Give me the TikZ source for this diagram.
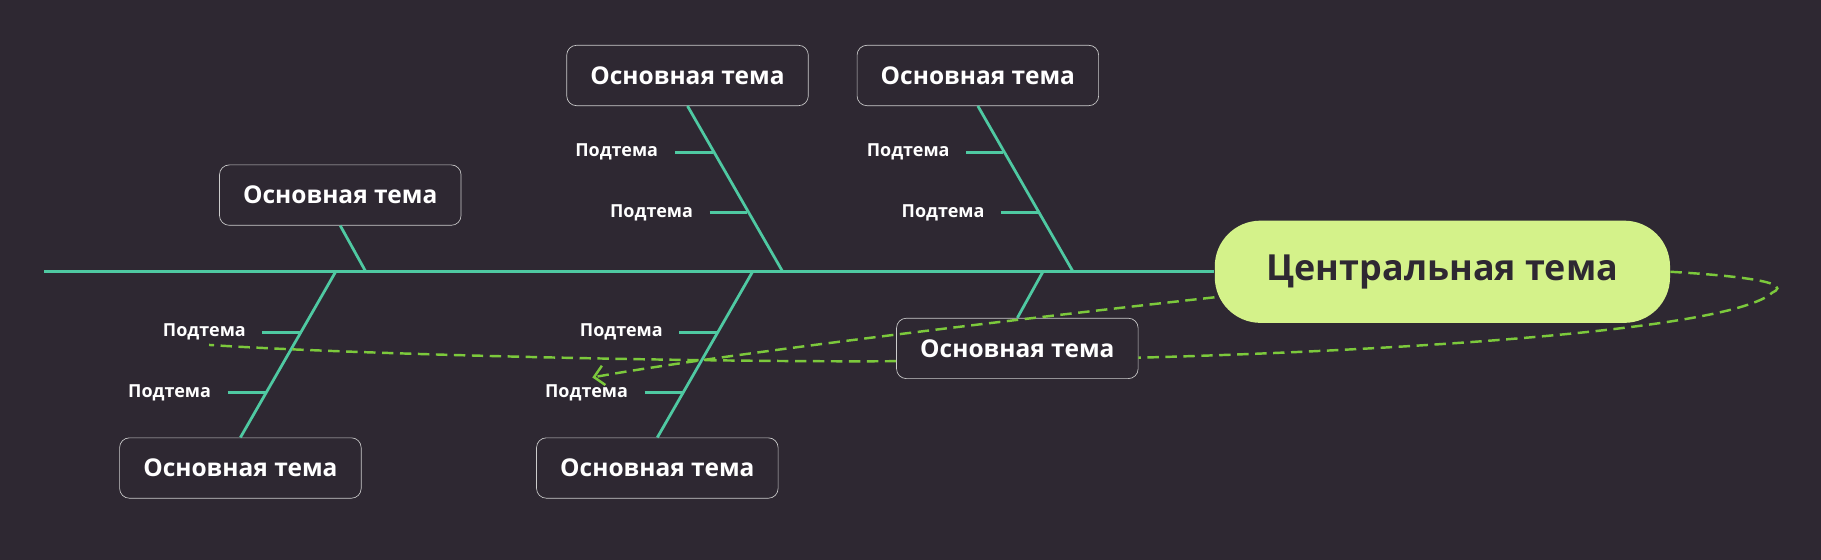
\documentclass[tikz,border=0pt]{standalone}
\usepackage{fontspec}
\setmainfont{Open Sans}
\usetikzlibrary{arrows.meta,positioning}
\definecolor{bg}{HTML}{2E2832}
\definecolor{bone}{HTML}{4FC9A2}
\definecolor{lime}{HTML}{D4F28A}
\definecolor{dash}{HTML}{7CC93C}
\tikzset{
  font=\bfseries,
  topic/.style={
    draw=white!80!black,
    fill=bg,
    text=white,
    rounded corners=6pt,
    minimum width=52mm,
    minimum height=13mm,
    font=\bfseries\fontsize{15}{18}\selectfont
  },
  central/.style={
    fill=lime,
    text=bg,
    rounded corners=28pt,
    minimum width=98mm,
    minimum height=22mm,
    font=\bfseries\fontsize{22}{26}\selectfont
  },
  sub/.style={text=white, font=\bfseries\fontsize{11}{13}\selectfont},
  bonel/.style={draw=bone, line width=1.7pt},
  loop/.style={draw=dash, line width=1.5pt, dashed, dash pattern=on 7pt off 4pt}
}
\begin{document}
\begin{tikzpicture}[x=0.25mm,y=-0.25mm]
\fill[bg] (0,0) rectangle (1568,482);

\node[central] (center) at (1242,234) {Центральная тема};
\coordinate (tail) at (38,234);

\node[topic] (t1) at (592,65) {Основная тема};
\node[topic] (t2) at (842,65) {Основная тема};
\node[topic] (t3) at (293,168) {Основная тема};
\node[topic] (b1) at (207,403) {Основная тема};
\node[topic] (b2) at (566,403) {Основная тема};
\node[topic] (b3) at (876,300) {Основная тема};

% joints on the spine
\coordinate (j1) at (674,234);
\coordinate (j2) at (924,234);
\coordinate (j3) at (315,234);
\coordinate (k1) at (289,234);
\coordinate (k2) at (648,234);
\coordinate (k3) at (898,234);

\draw[bonel] (tail) -- (center.west);
\draw[bonel] (t1.south) -- (j1);
\draw[bonel] (t2.south) -- (j2);
\draw[bonel] (t3.south) -- (j3);
\draw[bonel] (b1.north) -- (k1);
\draw[bonel] (b2.north) -- (k2);
\draw[bonel] (b3.north) -- (k3);

% sub topics
\foreach \n/\x/\y/\a/\b in {s1/531/131/581/614, s2/561/183/611/643,
    s3/782/131/832/864, s4/812/183/862/894,
    s5/176/286/226/259, s6/146/338/196/229,
    s7/535/286/585/618, s8/505/338/555/588}{
  \node[sub] (\n) at (\x,\y) {Подтема};
  \coordinate (\n a) at (\a,\y);
  \coordinate (\n b) at (\b,\y);
  \draw[bonel] (\n a) -- (\n b);
}

% dashed relation
\coordinate (far) at (1526,252);
\coordinate (end) at (180,297);
\coordinate (tip) at (510,325);
\draw[loop] (center.east) .. controls (1540,240) and (1535,248) .. (far)
  .. controls (1490,285) and (1200,302) .. (b3.east |- 0,308);
\draw[loop] (b3.west |- 0,311) .. controls (600,312) and (300,305) .. (end);
\draw[loop, -{Straight Barb[length=6pt]}] (center.west |- 0,256) .. controls (900,272) and (620,305) .. (tip);
\end{tikzpicture}
\end{document}
